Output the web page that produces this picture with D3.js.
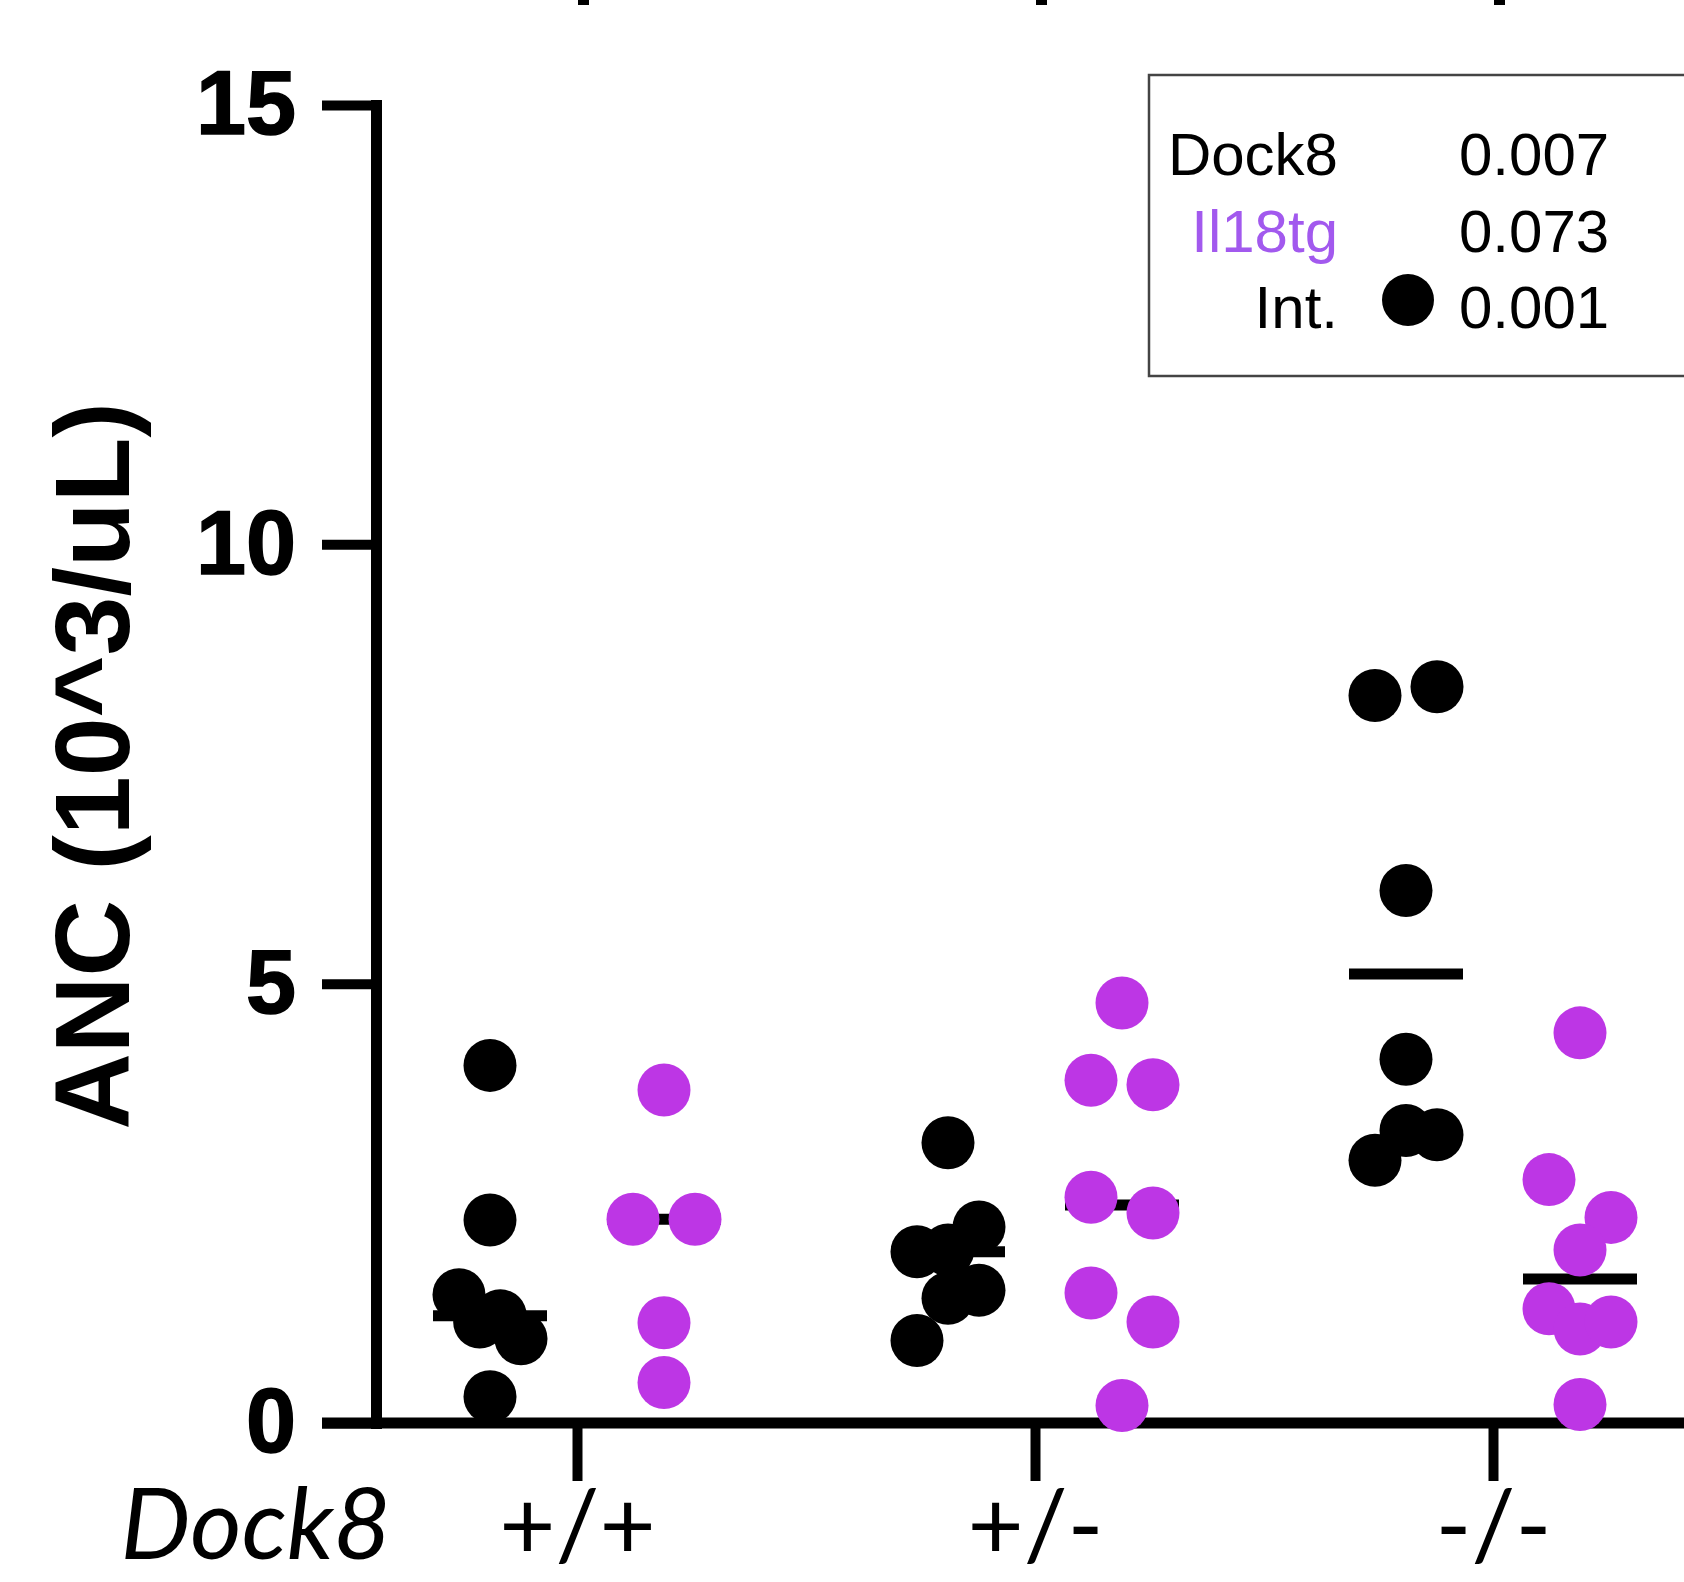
<!DOCTYPE html>
<head>
<meta charset="utf-8">
<script src="https://d3js.org/d3.v7.min.js"></script>
<style>

body {
  margin: 0;
  background: white;
}

.axis text {
  font-family: 'Liberation Sans', Arial, sans-serif;
  font-weight: bold;
  font-size: 90px;
  fill: black;
  stroke: black;
  stroke-width: 1.5;
}

.axis--x text {
  font-family: Lato, 'Open Sans', sans-serif;
  font-weight: normal;
  font-size: 97px;
  stroke: none;
}

.axis line {
  stroke: black;
  stroke-width: 10;
}

.y_title {
  font-family: 'Liberation Sans', Arial, sans-serif;
  font-weight: bold;
  font-size: 106px;
}

.legend text {
  font-family: 'Liberation Sans', Arial, sans-serif;
  font-size: 60px;
}

</style>
</head>

<body>
<div id="plotContainer"></div>
<script>

// ANC (10^3/uL) per mouse
var genotypes = ["+/+", "+/-", "-/-"];
var il18 = ["ctrl", "tg"];

var dock8_pp_ctrl = [4.07, 2.31, 1.46, 1.15, 1.22, 0.96, 0.30];
var dock8_pp_tg   = [3.79, 2.32, 2.32, 1.14, 0.46];
var dock8_pm_ctrl = [3.19, 1.95, 1.97, 2.23, 0.94, 1.42, 1.51];
var dock8_pm_tg   = [4.78, 3.90, 3.85, 2.57, 2.39, 1.48, 1.15, 0.20];
var dock8_mm_ctrl = [8.28, 8.38, 6.06, 4.14, 2.99, 3.33, 3.28];
var dock8_mm_tg   = [4.44, 2.77, 2.34, 1.97, 1.30, 1.07, 1.15, 0.21];

// median bars as drawn
var medians = [1.22, 2.32, 1.95, 2.48, 5.11, 1.64];

var yTicks = [0, 5, 10, 15];

var pLabels = ["Dock8", "Il18tg", "Int."];
var pValues = ["0.007", "0.073", "0.001"];

var groups = [
  {geno: "+/+", il: "ctrl", values: dock8_pp_ctrl, median: medians[0]},
  {geno: "+/+", il: "tg",   values: dock8_pp_tg,   median: medians[1]},
  {geno: "+/-", il: "ctrl", values: dock8_pm_ctrl, median: medians[2]},
  {geno: "+/-", il: "tg",   values: dock8_pm_tg,   median: medians[3]},
  {geno: "-/-", il: "ctrl", values: dock8_mm_ctrl, median: medians[4]},
  {geno: "-/-", il: "tg",   values: dock8_mm_tg,   median: medians[5]}
];

var colors = {ctrl: "#000000", tg: "#bd36e5"};

var width = 1684, height = 1582;
var axisX = 376, tickLen = 54;
var r = 26.5, spread = 31, barHalf = 57;

var svg = d3.select("#plotContainer")
    .append("svg")
    .attr("width", width)
    .attr("height", height)
    .style("display", "block");

var x = d3.scalePoint().domain(genotypes).range([577, 1493]);
var sub = d3.scalePoint().domain(il18).range([-87, 87]);
var y = d3.scaleLinear().domain([0, 15]).range([1423, 105]);

// stubs of the panel above, cut off at the top edge
svg.selectAll(".stub")
    .data(genotypes)
    .enter()
    .append("rect")
    .attr("x", function(d) { return x(d) + 1; })
    .attr("y", 0)
    .attr("width", 11)
    .attr("height", 5)
    .attr("fill", "black");

// y axis
var gy = svg.append("g")
    .attr("class", "axis axis--y")
    .attr("transform", "translate(" + axisX + ",0)")
    .call(d3.axisLeft(y).tickValues(yTicks).tickSize(tickLen).tickSizeOuter(0).tickPadding(26));

gy.select(".domain")
    .attr("stroke", "black")
    .attr("stroke-width", 11)
    .attr("stroke-linecap", "square");

// x axis: long baseline plus ticks below it
svg.append("line")
    .attr("x1", axisX - tickLen)
    .attr("x2", width)
    .attr("y1", y(0))
    .attr("y2", y(0))
    .attr("stroke", "black")
    .attr("stroke-width", 11);

var gx = svg.append("g")
    .attr("class", "axis axis--x")
    .attr("transform", "translate(0," + y(0) + ")")
    .call(d3.axisBottom(x).tickSize(58).tickSizeOuter(0));

gx.select(".domain").remove();
gx.selectAll("text")
    .attr("y", 136)
    .attr("dy", 0);

svg.append("text")
    .attr("x", 391)
    .attr("y", y(0) + 136)
    .attr("text-anchor", "end")
    .style("font-family", "Lato, 'Open Sans', sans-serif")
    .style("font-style", "italic")
    .style("font-size", "99px")
    .text("Dock8");

svg.append("text")
    .attr("class", "y_title")
    .attr("transform", "translate(129," + 766 + ") rotate(-90)")
    .attr("text-anchor", "middle")
    .text("ANC (10^3/uL)");

// spread points that share a row (one dot high) evenly across the column
function swarm(values, cx) {
  var order = values.map(function(v, i) { return {v: v, i: i}; })
      .sort(function(a, b) { return b.v - a.v; });
  var bins = [];
  order.forEach(function(d) {
    var bin = bins[bins.length - 1];
    if (bin && y(d.v) - y(bin[0].v) < 2 * r) bin.push(d);
    else bins.push([d]);
  });
  var pts = [];
  bins.forEach(function(bin) {
    bin.sort(function(a, b) { return a.i - b.i; });
    bin.forEach(function(d, k) {
      var off = bin.length == 1 ? 0 : -spread + 2 * spread * k / (bin.length - 1);
      pts.push({v: d.v, cx: cx + off, cy: y(d.v)});
    });
  });
  return pts;
}

var plot_content = svg.append("g").attr("id", "plot_content");

groups.forEach(function(g) {
  var cx = x(g.geno) + sub(g.il);

  plot_content.append("line")
      .attr("x1", cx - barHalf)
      .attr("x2", cx + barHalf)
      .attr("y1", y(g.median))
      .attr("y2", y(g.median))
      .attr("stroke", "black")
      .attr("stroke-width", 11);

  plot_content.selectAll(null)
      .data(swarm(g.values, cx))
      .enter()
      .append("circle")
      .attr("cx", function(d) { return d.cx; })
      .attr("cy", function(d) { return d.cy; })
      .attr("r", r)
      .attr("fill", colors[g.il]);
});

// p-value box
var legend = svg.append("g").attr("class", "legend");

legend.append("rect")
    .attr("x", 1149)
    .attr("y", 75)
    .attr("width", 620)
    .attr("height", 301)
    .attr("fill", "white")
    .attr("stroke", "#444")
    .attr("stroke-width", 2.5);

var rowY = d3.scalePoint().domain(pLabels).range([175, 328]);

legend.selectAll(".p_label")
    .data(pLabels)
    .enter()
    .append("text")
    .attr("x", 1338)
    .attr("y", function(d) { return rowY(d); })
    .attr("text-anchor", "end")
    .attr("fill", function(d) { return d == "Il18tg" ? "#a259ee" : "black"; })
    .text(function(d) { return d; });

legend.selectAll(".p_value")
    .data(pValues)
    .enter()
    .append("text")
    .attr("x", 1459)
    .attr("y", function(d, i) { return rowY(pLabels[i]); })
    .text(function(d) { return d; });

legend.append("circle")
    .attr("cx", 1408)
    .attr("cy", rowY("Int.") - 28)
    .attr("r", 26)
    .attr("fill", "black");

</script>
</body>
